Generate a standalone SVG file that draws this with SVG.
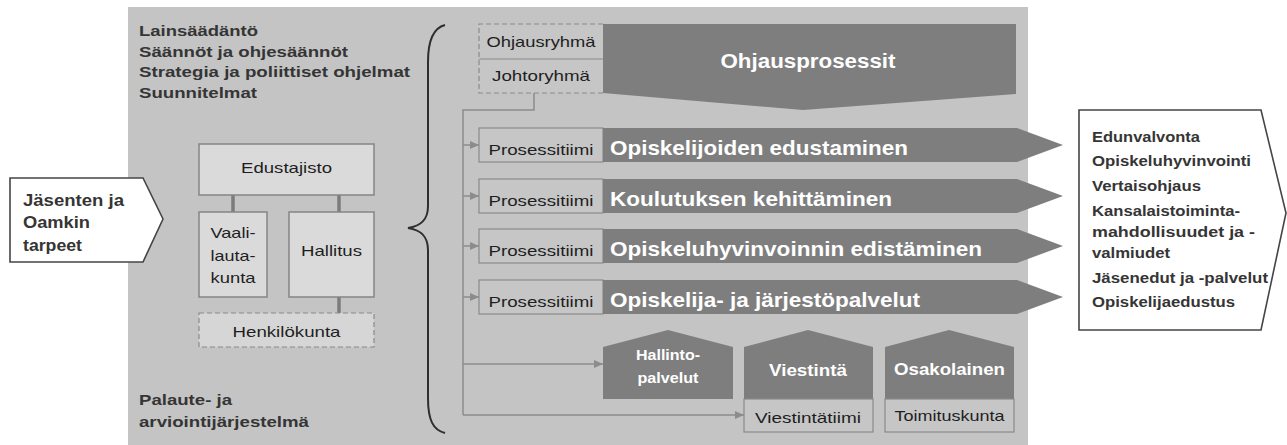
<svg xmlns="http://www.w3.org/2000/svg" width="1287" height="445" viewBox="0 0 1287 445">
<style>
.b{font-family:"Liberation Sans",Arial,sans-serif;font-weight:bold;fill:#353535}
.r{font-family:"Liberation Sans",Arial,sans-serif;fill:#1e1e1e}
.w{font-family:"Liberation Sans",Arial,sans-serif;font-weight:bold;fill:#ffffff}
.dark{fill:#7e7e7e}
.box{fill:#dadada;stroke:#858585;stroke-width:1.5}
.pbox{fill:#c6c6c6;stroke:#8a8a8a;stroke-width:1.2}
.dash{fill:none;stroke:#8a8a8a;stroke-width:1.2;stroke-dasharray:5,3}
.conn{fill:none;stroke:#8c8c8c;stroke-width:1.5}
.tie{fill:none;stroke:#7c7c7c;stroke-width:3.5}
.out{fill:#ffffff;stroke:#454545;stroke-width:1.6}
</style>
<defs>
<marker id="ah" markerUnits="userSpaceOnUse" markerWidth="10" markerHeight="10" refX="9" refY="5" orient="auto">
<path d="M0,1 L9,5 L0,9 Z" fill="#8c8c8c"/>
</marker>
</defs>
<rect x="128" y="7" width="900" height="438" fill="#c4c4c4"/>

<g id="context-texts">
<text class="b" font-size="15" x="139" y="36" textLength="119" lengthAdjust="spacingAndGlyphs">Lainsäädäntö</text>
<text class="b" font-size="15" x="139" y="57" textLength="209" lengthAdjust="spacingAndGlyphs">Säännöt ja ohjesäännöt</text>
<text class="b" font-size="15" x="139" y="77" textLength="271" lengthAdjust="spacingAndGlyphs">Strategia ja poliittiset ohjelmat</text>
<text class="b" font-size="15" x="139" y="98" textLength="118" lengthAdjust="spacingAndGlyphs">Suunnitelmat</text>
</g>
<g id="palaute">
<text class="b" font-size="15" x="139" y="405" textLength="93" lengthAdjust="spacingAndGlyphs">Palaute- ja</text>
<text class="b" font-size="15" x="139" y="427" textLength="170" lengthAdjust="spacingAndGlyphs">arviointijärjestelmä</text>
</g>

<g id="jasenten">
<polygon class="out" points="10,178 143,178 163,219 143,262 10,262"/>
<text class="b" font-size="16" x="23" y="206" textLength="101" lengthAdjust="spacingAndGlyphs">Jäsenten ja</text>
<text class="b" font-size="16" x="23" y="228" textLength="67" lengthAdjust="spacingAndGlyphs">Oamkin</text>
<text class="b" font-size="16" x="23" y="251" textLength="59" lengthAdjust="spacingAndGlyphs">tarpeet</text>
</g>

<g id="org-connectors">
<line class="tie" x1="233" y1="195" x2="233" y2="212"/>
<line class="tie" x1="339" y1="195" x2="339" y2="212"/>
<line class="tie" x1="339" y1="297" x2="339" y2="313"/>
</g>
<g id="edustajisto">
<rect class="box" x="199" y="144" width="175" height="51"/>
<text class="r" font-size="15" x="286.5" y="173" text-anchor="middle" textLength="91" lengthAdjust="spacingAndGlyphs">Edustajisto</text>
</g>
<g id="vaalilautakunta">
<rect class="box" x="199" y="212" width="68" height="85"/>
<text class="r" font-size="15" x="233" y="238" text-anchor="middle" textLength="45" lengthAdjust="spacingAndGlyphs">Vaali-</text>
<text class="r" font-size="15" x="233" y="261" text-anchor="middle" textLength="45" lengthAdjust="spacingAndGlyphs">lauta-</text>
<text class="r" font-size="15" x="233" y="283" text-anchor="middle" textLength="45" lengthAdjust="spacingAndGlyphs">kunta</text>
</g>
<g id="hallitus">
<rect class="box" x="289" y="212" width="85" height="85"/>
<text class="r" font-size="15" x="331.5" y="256" text-anchor="middle" textLength="61" lengthAdjust="spacingAndGlyphs">Hallitus</text>
</g>
<g id="henkilokunta">
<rect x="199" y="313" width="175" height="34" fill="#d6d6d6" stroke="#8a8a8a" stroke-width="1.2" stroke-dasharray="5,3"/>
<text class="r" font-size="15" x="286.5" y="337" text-anchor="middle" textLength="108" lengthAdjust="spacingAndGlyphs">Henkilökunta</text>
</g>

<g id="brace">
<path d="M445,25 C433,28 428,40 428,62 L428,206 C428,220 421,226 408,228 C421,230 428,236 428,250 L428,398 C428,420 433,430 445,433" fill="none" stroke="#2e2e2e" stroke-width="2"/>
</g>

<g id="ohjaus">
<path class="dark" d="M603,24 L1016,24 L1016,94 L803,110 L603,93 Z"/>
<rect x="479" y="24" width="124" height="69" fill="#c6c6c6"/>
<line x1="479" y1="59" x2="603" y2="59" stroke="#8a8a8a" stroke-width="1.2"/>
<path class="dash" d="M603,24 L479,24 L479,93 L603,93"/>
<text class="r" font-size="15" x="541" y="47" text-anchor="middle" textLength="109" lengthAdjust="spacingAndGlyphs">Ohjausryhmä</text>
<text class="r" font-size="15" x="541" y="81" text-anchor="middle" textLength="98" lengthAdjust="spacingAndGlyphs">Johtoryhmä</text>
<text class="w" font-size="20" x="808" y="68" text-anchor="middle" textLength="175" lengthAdjust="spacingAndGlyphs">Ohjausprosessit</text>
</g>

<g id="connectors">
<path class="conn" d="M534,93 L534,110 L463,110 L463,415"/>
<line class="conn" x1="463" y1="145" x2="479" y2="145" marker-end="url(#ah)"/>
<line class="conn" x1="463" y1="196" x2="479" y2="196" marker-end="url(#ah)"/>
<line class="conn" x1="463" y1="246" x2="479" y2="246" marker-end="url(#ah)"/>
<line class="conn" x1="463" y1="297" x2="479" y2="297" marker-end="url(#ah)"/>
<line class="conn" x1="463" y1="364" x2="603" y2="364" marker-end="url(#ah)"/>
<line class="conn" x1="463" y1="415" x2="744" y2="415" marker-end="url(#ah)"/>
</g>

<g id="row1">
<rect class="pbox" x="479" y="128" width="124" height="34"/>
<path class="dark" d="M603,128 L1017,128 L1063,145 L1017,162 L603,162 Z"/>
<text class="r" font-size="15" x="541" y="155" text-anchor="middle" textLength="105" lengthAdjust="spacingAndGlyphs">Prosessitiimi</text>
<text class="w" font-size="21" x="610" y="155" textLength="298" lengthAdjust="spacingAndGlyphs">Opiskelijoiden edustaminen</text>
</g>
<g id="row2">
<rect class="pbox" x="479" y="179" width="124" height="34"/>
<path class="dark" d="M603,179 L1017,179 L1063,196 L1017,213 L603,213 Z"/>
<text class="r" font-size="15" x="541" y="206" text-anchor="middle" textLength="105" lengthAdjust="spacingAndGlyphs">Prosessitiimi</text>
<text class="w" font-size="21" x="610" y="206" textLength="282" lengthAdjust="spacingAndGlyphs">Koulutuksen kehittäminen</text>
</g>
<g id="row3">
<rect class="pbox" x="479" y="229" width="124" height="34"/>
<path class="dark" d="M603,229 L1017,229 L1063,246 L1017,263 L603,263 Z"/>
<text class="r" font-size="15" x="541" y="256" text-anchor="middle" textLength="105" lengthAdjust="spacingAndGlyphs">Prosessitiimi</text>
<text class="w" font-size="21" x="610" y="256" textLength="372" lengthAdjust="spacingAndGlyphs">Opiskeluhyvinvoinnin edistäminen</text>
</g>
<g id="row4">
<rect class="pbox" x="479" y="280" width="124" height="34"/>
<path class="dark" d="M603,280 L1017,280 L1063,297 L1017,314 L603,314 Z"/>
<text class="r" font-size="15" x="541" y="307" text-anchor="middle" textLength="105" lengthAdjust="spacingAndGlyphs">Prosessitiimi</text>
<text class="w" font-size="21" x="610" y="307" textLength="310" lengthAdjust="spacingAndGlyphs">Opiskelija- ja järjestöpalvelut</text>
</g>

<g id="hallintopalvelut">
<path class="dark" d="M603,347 L668,330 L733,347 L733,399 L603,399 Z"/>
<text class="w" font-size="15" x="668" y="360" text-anchor="middle" textLength="64" lengthAdjust="spacingAndGlyphs">Hallinto-</text>
<text class="w" font-size="15" x="668" y="383" text-anchor="middle" textLength="61" lengthAdjust="spacingAndGlyphs">palvelut</text>
</g>
<g id="viestinta">
<path class="dark" d="M744,347 L808,330 L873,347 L873,399 L744,399 Z"/>
<rect class="pbox" x="744" y="399" width="129" height="33"/>
<text class="w" font-size="17" x="808" y="376" text-anchor="middle" textLength="78" lengthAdjust="spacingAndGlyphs">Viestintä</text>
<text class="r" font-size="15" x="808" y="423" text-anchor="middle" textLength="106" lengthAdjust="spacingAndGlyphs">Viestintätiimi</text>
</g>
<g id="osakolainen">
<path class="dark" d="M885,347 L949,330 L1014,347 L1014,399 L885,399 Z"/>
<rect class="pbox" x="885" y="399" width="129" height="33"/>
<text class="w" font-size="17" x="949.5" y="375" text-anchor="middle" textLength="111" lengthAdjust="spacingAndGlyphs">Osakolainen</text>
<text class="r" font-size="15" x="949.5" y="421" text-anchor="middle" textLength="110" lengthAdjust="spacingAndGlyphs">Toimituskunta</text>
</g>

<g id="outcomes">
<polygon class="out" points="1079,110 1261,110 1286,213 1261,330 1079,330"/>
<text class="b" font-size="14.5" x="1092" y="142" textLength="108" lengthAdjust="spacingAndGlyphs">Edunvalvonta</text>
<text class="b" font-size="14.5" x="1092" y="166" textLength="159" lengthAdjust="spacingAndGlyphs">Opiskeluhyvinvointi</text>
<text class="b" font-size="14.5" x="1092" y="191" textLength="109" lengthAdjust="spacingAndGlyphs">Vertaisohjaus</text>
<text class="b" font-size="14.5" x="1092" y="216" textLength="148" lengthAdjust="spacingAndGlyphs">Kansalaistoiminta-</text>
<text class="b" font-size="14.5" x="1092" y="237" textLength="163" lengthAdjust="spacingAndGlyphs">mahdollisuudet ja -</text>
<text class="b" font-size="14.5" x="1092" y="258" textLength="78" lengthAdjust="spacingAndGlyphs">valmiudet</text>
<text class="b" font-size="14.5" x="1092" y="283" textLength="176" lengthAdjust="spacingAndGlyphs">Jäsenedut ja -palvelut</text>
<text class="b" font-size="14.5" x="1092" y="307" textLength="143" lengthAdjust="spacingAndGlyphs">Opiskelijaedustus</text>
</g>
</svg>
